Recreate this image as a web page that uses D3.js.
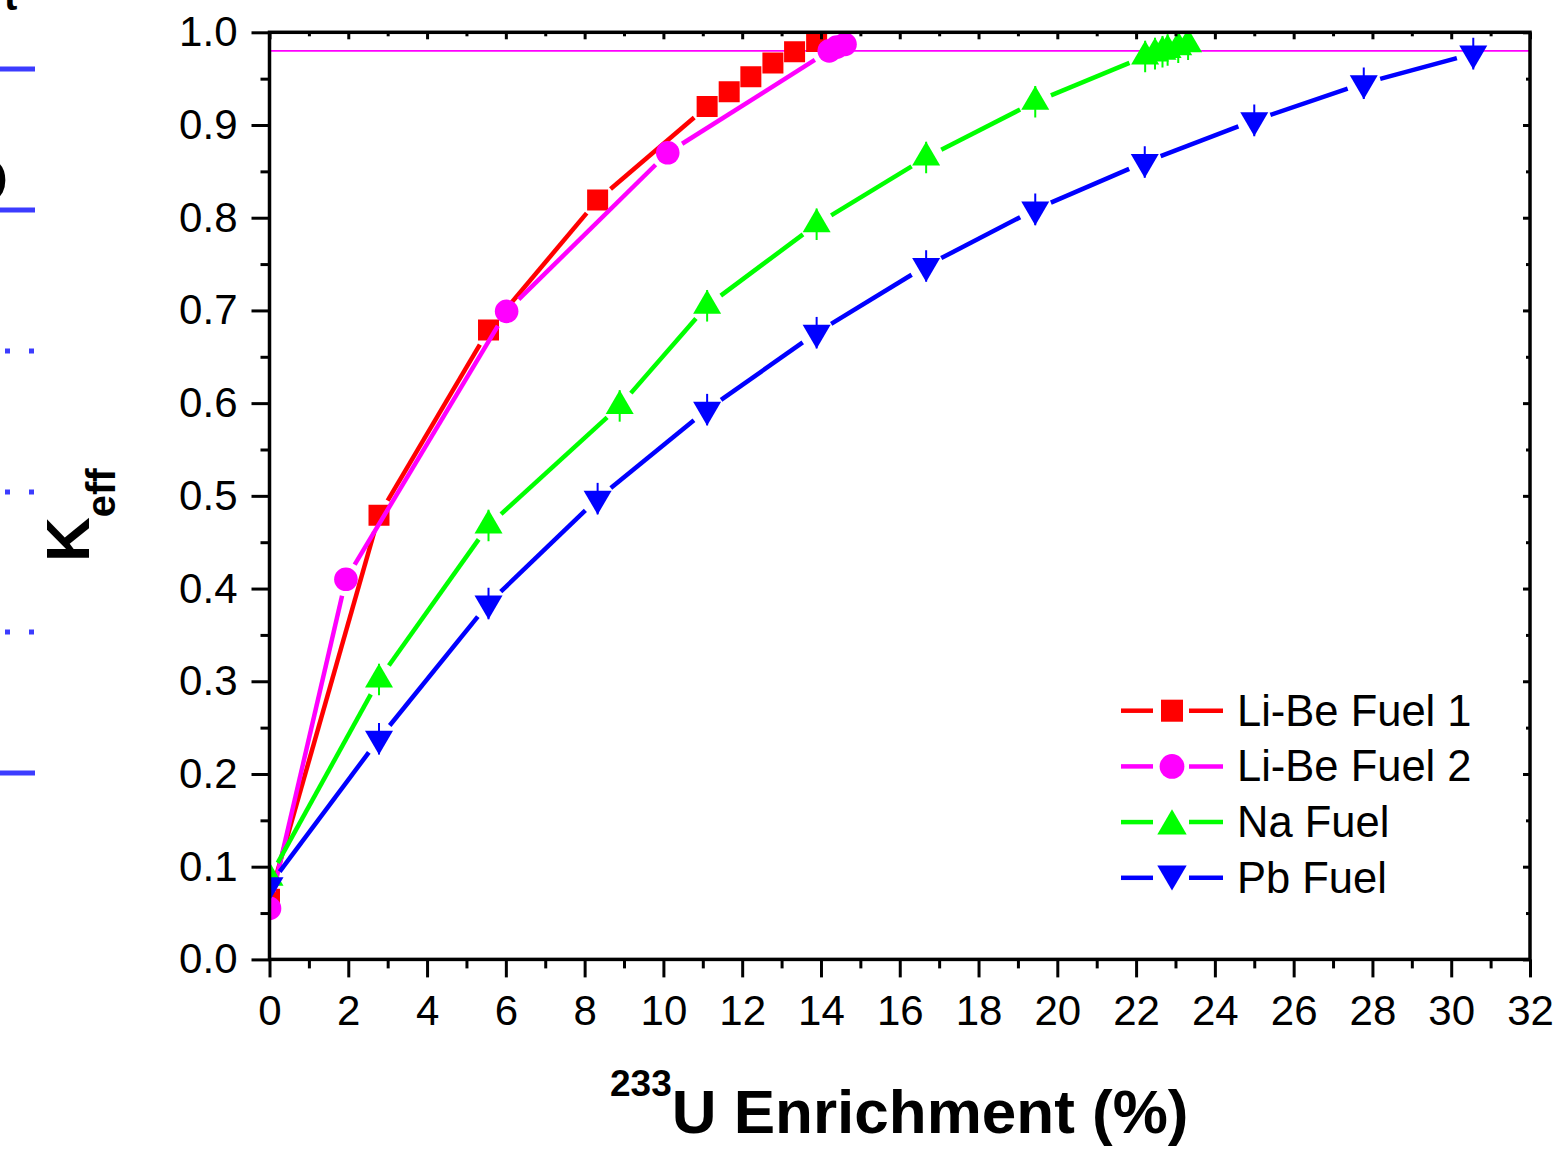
<!DOCTYPE html>
<html>
<head>
<meta charset="utf-8">
<script src="https://cdn.jsdelivr.net/npm/d3@7"></script>
<style>
  body{margin:0;background:#fff}
  svg{display:block}
</style>
</head>
<body>
<svg id="graphContainer"></svg>
<script>
/*Données*/
const seriesNames = ['Li-Be Fuel 1', 'Li-Be Fuel 2', 'Na Fuel', 'Pb Fuel']

const liBe1X = [0, 2.78, 5.56, 8.33, 11.11, 11.67, 12.22, 12.78, 13.33, 13.89]
const liBe1Y = [0.065, 0.479, 0.679, 0.819, 0.920, 0.936, 0.952, 0.967, 0.979, 0.990]

const liBe2X = [0, 1.94, 6.02, 10.11, 14.21, 14.40, 14.61]
const liBe2Y = [0.055, 0.410, 0.699, 0.870, 0.980, 0.984, 0.987]

const naX = [0, 2.78, 5.56, 8.89, 11.11, 13.89, 16.67, 19.44, 22.23, 22.48, 22.67, 22.80, 23.07, 23.32]
const naY = [0.088, 0.302, 0.468, 0.597, 0.705, 0.793, 0.865, 0.925, 0.974, 0.977, 0.979, 0.981, 0.984, 0.987]
const naErr = [0.017, 0.017, 0.017, 0.017, 0.017, 0.017, 0.017, 0.017, 0.017, 0.017, 0.017, 0.017, 0.017, 0.017]

const pbX = [0, 2.78, 5.56, 8.33, 11.11, 13.89, 16.67, 19.44, 22.22, 25.00, 27.78, 30.56]
const pbY = [0.080, 0.238, 0.384, 0.497, 0.593, 0.676, 0.748, 0.809, 0.860, 0.905, 0.945, 0.977]
const pbErr = [0.017, 0.017, 0.017, 0.017, 0.017, 0.017, 0.017, 0.017, 0.017, 0.017, 0.017, 0.017]

const kCritique = 0.98

const xTickValues = [0, 2, 4, 6, 8, 10, 12, 14, 16, 18, 20, 22, 24, 26, 28, 30, 32]
const xMinorValues = [1, 3, 5, 7, 9, 11, 13, 15, 17, 19, 21, 23, 25, 27, 29, 31]
const yTickValues = [0.0, 0.1, 0.2, 0.3, 0.4, 0.5, 0.6, 0.7, 0.8, 0.9, 1.0]
const yMinorValues = [0.05, 0.15, 0.25, 0.35, 0.45, 0.55, 0.65, 0.75, 0.85, 0.95]

/*Styles*/
const couleurs = ['#ff0000', '#ff00ff', '#00ff00', '#0000ff']
const symboles = ['square', 'circle', 'triUp', 'triDown']
const police = "'Liberation Sans', Arial, Helvetica, sans-serif"

const width = 1564, height = 1152
const margin = {top: 32.3, right: 34, bottom: 192.6, left: 269.5}

let svgContainer = d3.select('#graphContainer')
                     .attr('width', width)
                     .attr('height', height)

/*Echelles*/
const xScale = d3.scaleLinear()
                 .domain([0, 32])
                 .range([margin.left, width - margin.right])
const yScale = d3.scaleLinear()
                 .domain([0, 1])
                 .range([height - margin.bottom, margin.top])

/*Forme des symboles, centrés sur le barycentre*/
const symbolPath = (type, k = 1) => {
    if (type === 'square') {
        const h = 10.5 * k
        return `M${-h},${-h}H${h}V${h}H${-h}Z`
    }
    if (type === 'circle') {
        const r = 11.8 * k
        return `M${-r},0A${r},${r} 0 1,0 ${r},0A${r},${r} 0 1,0 ${-r},0Z`
    }
    const w = 14 * k, a = 16 * k, b = 8 * k
    if (type === 'triUp') return `M0,${-a}L${w},${b}L${-w},${b}Z`
    return `M0,${a}L${w},${-b}L${-w},${-b}Z`
}

/*Segments de ligne avec un espace autour des symboles*/
const segmentsAvecEcart = (pts, ecart) => {
    let segs = []
    for (let i = 0; i < pts.length - 1; i++) {
        const [x1, y1] = pts[i], [x2, y2] = pts[i + 1]
        const dx = x2 - x1, dy = y2 - y1, len = Math.hypot(dx, dy)
        if (len <= 2 * ecart) continue
        const ux = dx / len, uy = dy / len
        segs.push([x1 + ux * ecart, y1 + uy * ecart, x2 - ux * ecart, y2 - uy * ecart])
    }
    return segs
}

/*Axes*/
const styleAxe = (g) => {
    g.select('.domain').remove()
    g.selectAll('.tick line').attr('stroke', '#000').attr('stroke-width', 3)
    g.selectAll('.tick text')
     .style('font-family', police)
     .style('font-size', '42px')
     .attr('fill', '#000')
}

const createAxes = () => {
    const bas = height - margin.bottom
    const droite = width - margin.right

    svgContainer.append('g')
        .attr('transform', 'translate(0,' + bas + ')')
        .call(d3.axisBottom(xScale).tickValues(xMinorValues).tickSize(9).tickFormat(''))
        .call(styleAxe)
    svgContainer.append('g')
        .attr('id', 'x-axis')
        .attr('transform', 'translate(0,' + bas + ')')
        .call(d3.axisBottom(xScale).tickValues(xTickValues).tickSize(18).tickPadding(18).tickFormat(d3.format('d')))
        .call(styleAxe)

    svgContainer.append('g')
        .attr('transform', 'translate(' + margin.left + ',0)')
        .call(d3.axisLeft(yScale).tickValues(yMinorValues).tickSize(9).tickFormat(''))
        .call(styleAxe)
    svgContainer.append('g')
        .attr('id', 'y-axis')
        .attr('transform', 'translate(' + margin.left + ',0)')
        .call(d3.axisLeft(yScale).tickValues(yTickValues).tickSize(18).tickPadding(14).tickFormat(d3.format('.1f')))
        .call(styleAxe)

    /*axes miroirs haut et droite, graduations vers l'intérieur*/
    svgContainer.append('g')
        .attr('transform', 'translate(0,' + margin.top + ')')
        .call(d3.axisTop(xScale).tickValues(xMinorValues).tickSize(-4).tickFormat(''))
        .call(styleAxe)
    svgContainer.append('g')
        .attr('transform', 'translate(0,' + margin.top + ')')
        .call(d3.axisTop(xScale).tickValues(xTickValues).tickSize(-7).tickFormat(''))
        .call(styleAxe)
    svgContainer.append('g')
        .attr('transform', 'translate(' + droite + ',0)')
        .call(d3.axisRight(yScale).tickValues(yMinorValues).tickSize(-4).tickFormat(''))
        .call(styleAxe)
    svgContainer.append('g')
        .attr('transform', 'translate(' + droite + ',0)')
        .call(d3.axisRight(yScale).tickValues(yTickValues).tickSize(-7).tickFormat(''))
        .call(styleAxe)

    /*cadre*/
    svgContainer.append('rect')
        .attr('x', margin.left)
        .attr('y', margin.top)
        .attr('width', droite - margin.left)
        .attr('height', bas - margin.top)
        .attr('fill', 'none')
        .attr('stroke', '#000')
        .attr('stroke-width', 3.5)
}

/*Courbes*/
const drawSeries = () => {
    svgContainer.append('clipPath')
        .attr('id', 'zone')
        .append('rect')
        .attr('x', margin.left)
        .attr('y', margin.top)
        .attr('width', width - margin.right - margin.left)
        .attr('height', height - margin.bottom - margin.top)

    const plot = svgContainer.append('g').attr('clip-path', 'url(#zone)')

    /*ligne horizontale k = 0.98*/
    plot.append('line')
        .attr('x1', xScale(0))
        .attr('x2', xScale(32))
        .attr('y1', yScale(kCritique))
        .attr('y2', yScale(kCritique))
        .attr('stroke', '#ff00ff')
        .attr('stroke-width', 1.6)

    const series = [
        {x: liBe1X, y: liBe1Y, err: null},
        {x: liBe2X, y: liBe2Y, err: null},
        {x: naX, y: naY, err: naErr},
        {x: pbX, y: pbY, err: pbErr}
    ]

    series.forEach((s, i) => {
        const pts = s.x.map((v, j) => [xScale(v), yScale(s.y[j])])
        const g = plot.append('g').attr('class', 'serie')

        g.selectAll('line.seg')
            .data(segmentsAvecEcart(pts, 17))
            .enter()
            .append('line')
            .attr('class', 'seg')
            .attr('x1', d => d[0]).attr('y1', d => d[1])
            .attr('x2', d => d[2]).attr('y2', d => d[3])
            .attr('stroke', couleurs[i])
            .attr('stroke-width', 4.5)

        if (s.err) {
            g.selectAll('line.err')
                .data(s.x.map((v, j) => [v, s.y[j], s.err[j]]))
                .enter()
                .append('line')
                .attr('class', 'err')
                .attr('x1', d => xScale(d[0])).attr('x2', d => xScale(d[0]))
                .attr('y1', d => yScale(d[1] - d[2])).attr('y2', d => yScale(d[1] + d[2]))
                .attr('stroke', couleurs[i])
                .attr('stroke-width', 2)
        }

        g.selectAll('path.sym')
            .data(pts)
            .enter()
            .append('path')
            .attr('class', 'sym')
            .attr('d', symbolPath(symboles[i]))
            .attr('transform', d => 'translate(' + d[0] + ',' + d[1] + ')')
            .attr('fill', couleurs[i])
    })
}

/*Légende*/
const drawLegend = () => {
    const leg = svgContainer.append('g').attr('id', 'legend')
    seriesNames.forEach((nom, i) => {
        const y = 710.7 + i * 55.7
        const row = leg.append('g').attr('transform', 'translate(0,' + y + ')')
        row.append('line').attr('x1', 1121).attr('x2', 1153).attr('y1', 0).attr('y2', 0)
           .attr('stroke', couleurs[i]).attr('stroke-width', 4.5)
        row.append('line').attr('x1', 1189).attr('x2', 1223).attr('y1', 0).attr('y2', 0)
           .attr('stroke', couleurs[i]).attr('stroke-width', 4.5)
        row.append('path')
           .attr('d', symbolPath(symboles[i], 1.05))
           .attr('transform', 'translate(1172,' + (symboles[i] === 'triUp' ? 4 : symboles[i] === 'triDown' ? -4 : 0) + ')')
           .attr('fill', couleurs[i])
        row.append('text')
           .attr('x', 1237)
           .attr('y', 15)
           .style('font-family', police)
           .style('font-size', '43.5px')
           .text(nom)
    })
}

/*Titres des axes*/
const nameAxes = () => {
    const yTitre = svgContainer.append('text')
        .attr('transform', 'translate(89,562) rotate(-90)')
        .style('font-family', police)
        .style('font-weight', 'bold')
    yTitre.append('tspan').style('font-size', '62px').text('K')
    yTitre.append('tspan').attr('dy', 26).style('font-size', '40px').text('eff')

    const xTitre = svgContainer.append('text')
        .style('font-family', police)
        .style('font-weight', 'bold')
    xTitre.append('tspan').attr('x', 610).attr('y', 1096).style('font-size', '37px').text('233')
    xTitre.append('tspan').attr('y', 1133).style('font-size', '62px').text('U Enrichment (%)')
}

/*Restes du panneau voisin, coupé à gauche (comme sur l'original)*/
const drawVoisin = () => {
    const bleu = '#3c3cff'
    const v = svgContainer.append('g')
    ;[69, 210, 773].forEach(y => {
        v.append('rect').attr('x', 0).attr('y', y - 2.5).attr('width', 35).attr('height', 5).attr('fill', bleu)
    })
    ;[351, 492, 632].forEach(y => {
        v.append('rect').attr('x', 5).attr('y', y - 2.5).attr('width', 5).attr('height', 5).attr('fill', bleu)
        v.append('rect').attr('x', 29).attr('y', y - 2.5).attr('width', 5).attr('height', 5).attr('fill', bleu)
    })
    v.append('text').attr('x', 4).attr('y', 10)
     .style('font-family', police).style('font-weight', 'bold').style('font-size', '40px').text('t')
    v.append('text').attr('x', 8).attr('y', 203).attr('text-anchor', 'end')
     .style('font-family', police).style('font-weight', 'bold').style('font-size', '64px').text('O')
}

drawVoisin()
drawSeries()
createAxes()
drawLegend()
nameAxes()
</script>
</body>
</html>
